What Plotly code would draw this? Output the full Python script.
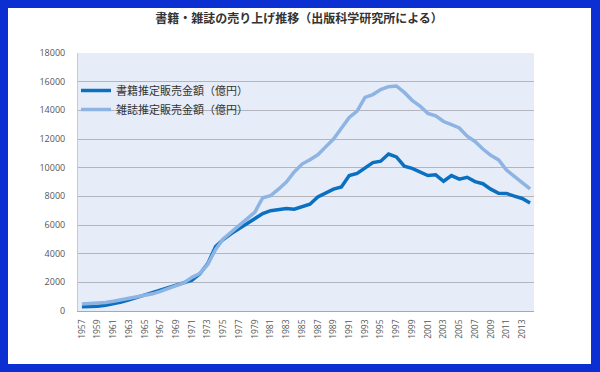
import plotly.graph_objects as go

years = list(range(1957, 2015))

books = [300, 310, 340, 400, 480, 620, 780, 950, 1130, 1290,
         1470, 1650, 1830, 2000, 2150, 2600, 3300, 4500, 5000, 5400,
         5750, 6100, 6500, 6800, 7000, 7100, 7150, 7100, 7250, 7450,
         7950, 8250, 8500, 8650, 9450, 9600, 10000, 10350, 10450, 10950,
         10750, 10100, 9950, 9700, 9450, 9500, 9050, 9450, 9200, 9330,
         9030, 8880, 8500, 8210, 8200, 8010, 7850, 7540]

magazines = [480, 500, 540, 590, 680, 780, 850, 960, 1060, 1200,
             1370, 1550, 1750, 1970, 2350, 2620, 3250, 4300, 5050, 5500,
             6000, 6400, 6900, 7900, 8050, 8500, 9000, 9700, 10250, 10550,
             10900, 11450, 12000, 12750, 13500, 13950, 14900, 15100, 15450, 15650,
             15700, 15250, 14700, 14300, 13790, 13620, 13220, 13000, 12770, 12200,
             11830, 11300, 10860, 10540, 9840, 9390, 8970, 8520]

series_names = ["書籍推定販売金額（億円）", "雑誌推定販売金額（億円）"]
title_text = "書籍・雑誌の売り上げ推移（出版科学研究所による）"
x_ticks = list(range(1957, 2014, 2))
y_ticks = list(range(0, 18001, 2000))

W, H = 600, 372
L, R, T, B = 78, 66, 53, 61
PW, PH = W - L - R, H - T - B


def px(x):
    return (x - L) / PW


def py(y):
    return (H - B - y) / PH


fig = go.Figure()
fig.add_trace(go.Scatter(x=years, y=books, mode="lines", name=series_names[0],
                         line=dict(color="#0a70c2", width=3.5)))
fig.add_trace(go.Scatter(x=years, y=magazines, mode="lines", name=series_names[1],
                         line=dict(color="#8db4e2", width=3.5)))

blue = "#0b2fd0"
shapes = []
for (x0, y0, x1, y1) in [(-2, -2, 8, 374), (591, -2, 602, 374),
                         (-2, -2, 602, 8), (-2, 364, 602, 374)]:
    shapes.append(dict(type="rect", xref="paper", yref="paper",
                       x0=px(x0), x1=px(x1), y0=py(y1), y1=py(y0),
                       fillcolor=blue, line=dict(width=0), layer="above"))

fig.update_layout(
    width=W, height=H,
    margin=dict(l=L, r=R, t=T, b=B),
    paper_bgcolor="white",
    plot_bgcolor="#e7edf8",
    font=dict(family="Noto Sans CJK JP, Open Sans, sans-serif", color="#444"),
    title=dict(text="<b>" + title_text + "</b>", x=299 / W, xref="container",
               xanchor="center", y=1 - 19 / H, yanchor="middle", yref="container",
               font=dict(size=12, color="#333")),
    showlegend=True,
    legend=dict(x=px(76), y=py(76), xanchor="left", yanchor="top",
                bgcolor="rgba(0,0,0,0)", font=dict(size=11, color="#333"),
                tracegroupgap=0),
    shapes=shapes,
)

fig.update_xaxes(range=[1956.5, 2014.5], tickmode="array", tickvals=x_ticks,
                 ticktext=[str(v) for v in x_ticks], tickangle=-90,
                 showgrid=False, zeroline=False, showline=True, linecolor="#a8a8b0",
                 linewidth=1, ticks="", ticklabelstandoff=4,
                 tickfont=dict(size=8.5, family="Open Sans, sans-serif", color="#555"))
fig.update_yaxes(range=[0, 18000], tickmode="array", tickvals=y_ticks,
                 ticktext=[str(v) for v in y_ticks],
                 showgrid=True, gridcolor="#b4b4bc", gridwidth=1, zeroline=False,
                 showline=True, linecolor="#c8c8d0", linewidth=1, ticks="",
                 ticklabelstandoff=10,
                 tickfont=dict(size=9, family="Open Sans, sans-serif", color="#555"))

fig.write_html("out.html", config={"displayModeBar": False},
               post_script="document.body.style.margin='0';document.body.style.overflow='hidden';")
